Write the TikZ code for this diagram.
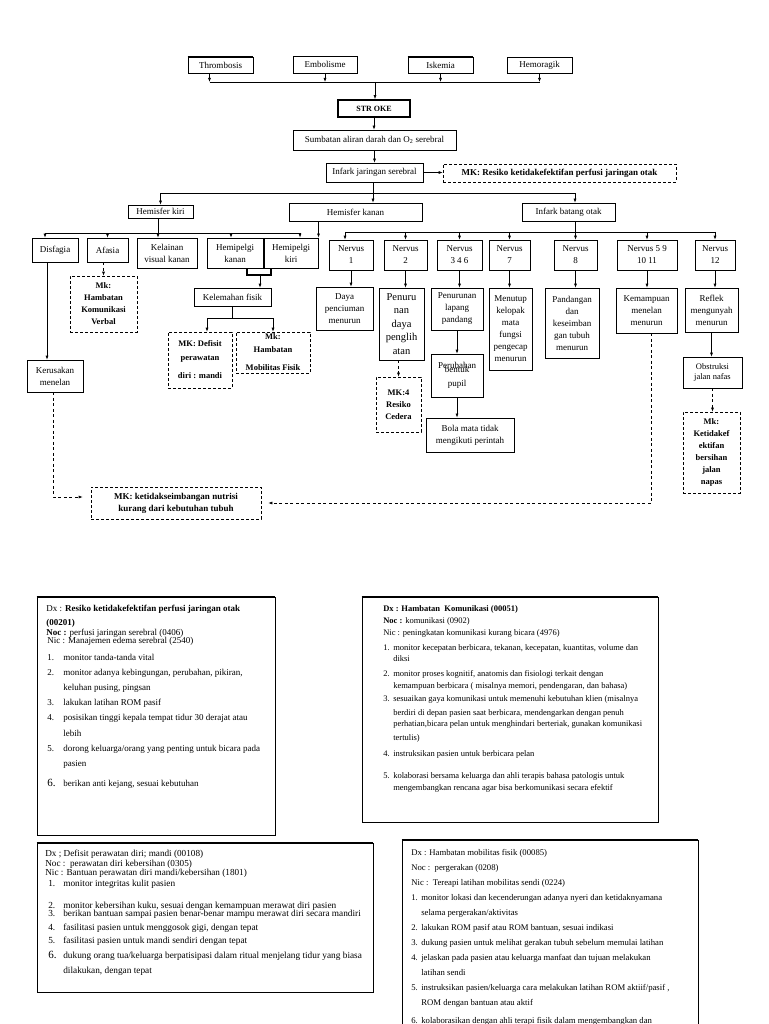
\documentclass[tikz,border=0pt]{standalone}
\usepackage{fontspec}
\setmainfont{Liberation Serif}
\usetikzlibrary{arrows.meta}

\tikzset{
  box/.style={draw, inner sep=0pt, align=center, font=\fontsize{9}{12}\selectfont},
  mkbox/.style={box, dash pattern=on 3pt off 2pt, font=\bfseries\fontsize{8.5}{12}\selectfont},
  arr/.style={-{Latex[length=4pt,width=3pt]}},
  darr/.style={arr, dash pattern=on 3pt off 2.5pt},
  doc/.style={draw, inner sep=0pt},
  topedge/.style={line width=1.6pt},
  dx/.style={anchor=base west, inner sep=0pt, font=\fontsize{#1}{10}\selectfont},
  dx/.default=8.7,
}

\newcommand{\boxat}[7][]{%
  \node[box, minimum width={(#5-#3)*1pt}, minimum height={(#6-#4)*1pt}, #1]
    (#2) at ({(#3+#5)/2},{(#4+#6)/2}) {#7};}

\begin{document}
\begin{tikzpicture}[x=1pt, y=-1pt, line width=0.6pt]
  \useasboundingbox (0,0) rectangle (768,1024);

  \boxat{thr}{188}{57}{253}{73}{Thrombosis}
  \boxat{emb}{293}{56}{357}{73}{Embolisme}
  \boxat{isk}{408}{57}{473}{73}{Iskemia}
  \boxat{hem}{507}{57}{572}{73}{Hemoragik}
  \boxat[line width=1.6pt, font=\bfseries\fontsize{8}{10}\selectfont]{stroke}{338}{100}{410}{117}{STR OKE}
  \boxat{sumb}{293}{130}{456}{150}{Sumbatan aliran darah dan O\textsubscript{2} serebral}
  \boxat{infark}{326}{163}{423}{182}{Infark jaringan serebral}
  \boxat[mkbox, font=\bfseries\fontsize{9}{11}\selectfont]{mkperf}{443}{164}{676}{182}{MK: Resiko ketidakefektifan perfusi jaringan otak}
  \foreach \c in {thr,isk}
    \draw[topedge] (\c.north west) -- (\c.north east);

  \boxat{hki}{128}{205}{193}{218}{Hemisfer kiri}
  \boxat{hka}{289}{203}{422}{221}{Hemisfer kanan}
  \boxat{ibo}{522}{203}{615}{221}{Infark batang otak}

  \boxat{disf}{32}{238}{78}{262}{Disfagia}
  \boxat{afas}{87}{238}{128}{262}{Afasia}
  \boxat{kel}{137}{238}{197}{268}{Kelainan\\visual kanan}
  \boxat{hpka}{207}{238}{263}{268}{Hemipelgi\\kanan}
  \boxat[line width=0.9pt]{hpki}{264}{238}{318}{268}{Hemipelgi\\kiri}
  \boxat{nv1}{329}{240}{373}{270}{Nervus\\1}
  \boxat{nv2}{384}{240}{427}{270}{Nervus\\2}
  \boxat{nv3}{437}{240}{482}{270}{Nervus\\3 4 6}
  \boxat{nv7}{489}{240}{530}{270}{Nervus\\7}
  \boxat{nv8}{554}{240}{597}{270}{Nervus\\8}
  \boxat{nv5}{617}{240}{677}{270}{Nervus 5 9\\10 11}
  \boxat{nv12}{695}{240}{735}{270}{Nervus\\12}

  \boxat{daya}{316}{287}{373}{330}{Daya\\penciuman\\menurun}
  \boxat[font=\fontsize{10.5}{13.5}\selectfont]{pengl}{379}{288}{424}{360}{Penuru\\nan\\daya\\penglih\\atan}
  \boxat{lapang}{431}{288}{483}{330}{Penurunan\\lapang\\pandang}
  \boxat{menutup}{489}{288}{532}{370}{Menutup\\kelopak\\mata\\fungsi\\pengecap\\menurun}
  \boxat{pand}{545}{288}{599}{358}{Pandangan\\dan\\keseimban\\gan tubuh\\menurun}
  \boxat{kemamp}{616}{288}{677}{333}{Kemampuan\\menelan\\menurun}
  \boxat{reflek}{685}{288}{738}{332}{Reflek\\mengunyah\\menurun}

  \boxat{perub}{431}{354}{483}{397}{Perubahan\\[-8pt]bentuk\\[2pt]pupil}
  \boxat[line width=0.9pt]{bola}{426}{418}{514}{452}{Bola mata tidak\\mengikuti perintah}
  \boxat[mkbox]{mkced}{376}{377}{421}{432}{MK:4\\Resiko\\Cedera}
  \boxat[font=\fontsize{8.5}{10}\selectfont]{obst}{683}{357}{742}{388}{Obstruksi\\jalan nafas}
  \boxat[mkbox]{mknap}{683}{412}{740}{493}{Mk:\\Ketidakef\\ektifan\\bersihan\\jalan\\napas}

  \boxat[mkbox]{mkverb}{70}{276}{137}{332}{Mk:\\Hambatan\\Komunikasi\\Verbal}
  \boxat{keru}{27}{360}{83}{392}{Kerusakan\\menelan}
  \boxat{kelem}{194}{288}{271}{306}{Kelemahan fisik}
  \boxat[mkbox]{mkdef}{168}{332}{232}{388}{MK: Defisit\\[2pt]perawatan\\[6pt]diri : mandi}
  \boxat[mkbox]{mkmob}{236}{332}{310}{373}{Mk:\\[1pt]Hambatan\\[6pt]Mobilitas Fisik}
  \boxat[mkbox, font=\bfseries\fontsize{9}{12}\selectfont]{mknut}{91}{487}{261}{519}{MK: ketidakseimbangan nutrisi\\kurang dari kebutuhan tubuh}

  \coordinate (b1) at (375,82);
  \draw[arr] ([xshift=-11pt]thr.south) -- ([xshift=-11pt]thr.south |- b1);
  \foreach \c in {emb,isk,hem}
    \draw[arr] (\c.south) -- (\c.south |- b1);
  \draw ([xshift=-11pt]thr.south |- b1) -- (hem.south |- b1);
  \draw[arr] (b1) -- (b1 |- stroke.north);
  \draw[arr] (stroke.south) -- (stroke.south |- sumb.north);
  \draw[arr] (sumb.south) -- (infark.north);
  \draw[arr] (infark.east) -- (infark.east -| mkperf.west);

  \coordinate (b2) at (373,193);
  \coordinate (b4) at (575,232);
  \draw (infark.south -| b2) -- (b2);
  \draw[arr] (b2) -| (hki.north);
  \draw[arr] (b2) -- (b2 |- hka.north);
  \draw[arr] (b2) -| (b4 |- ibo.north);

  \coordinate (b3) at (158,233);
  \draw[arr] (hki.south -| b3) -- (b3 |- kel.north);
  \draw ([xshift=-10pt]disf.north |- b3) -- ([xshift=9pt]hpki.north |- b3);
  \foreach \nd/\sh in {disf/-10, afas/0, hpka/-4, hpki/9}
    \draw[arr] ([xshift=\sh]\nd.north |- b3) -- ([xshift=\sh]\nd.north);
  \draw[arr] ([xshift=-37pt]hka.south) -- ([xshift=-37pt]hka.south |- hpki.north);

  \draw (ibo.south -| b4) -- (b4);
  \draw ([xshift=-6pt]nv1.north |- b4) -- (nv12.north |- b4);
  \foreach \nd/\sh in {nv1/-6, nv2/0, nv3/0, nv7/0, nv8/0, nv5/0, nv12/0}
    \draw[arr] ([xshift=\sh]\nd.north |- b4) -- ([xshift=\sh]\nd.north);
  \foreach \a/\b in {nv1/daya, nv2/pengl, nv3/lapang, nv7/menutup, nv8/pand, nv5/kemamp, nv12/reflek}
    \draw[arr] (\a.south) -- (\a.south |- \b.north);

  \draw[darr] (mkced.north |- pengl.south) -- (mkced.north);
  \draw[arr] (lapang.south) -- (lapang.south |- perub.north);
  \draw[arr] (perub.south) -- (perub.south |- bola.north);
  \draw[arr] (reflek.south) -- (reflek.south |- obst.north);
  \draw[darr] (obst.south) -- (obst.south |- mknap.north);

  \draw[darr] (mkverb.north |- afas.south) -- (mkverb.north);
  \draw[arr] ([xshift=-8pt]disf.south) -- ([xshift=-8pt]disf.south |- keru.north);
  \draw[darr, shorten >=8pt] ([xshift=-2pt]keru.south) |- ([yshift=6pt]mknut.west);
  \draw[darr, shorten >=7pt] ([xshift=5pt]kemamp.south) |- (mknut.east);

  \coordinate (hp) at (260,275);
  \draw[line width=1.2pt] ([xshift=12pt]hpka.south) |- (hp) -| ([xshift=-20pt]hpki.south);
  \draw[arr] (hp) -- (hp |- kelem.north);
  \coordinate (kb) at (232,318);
  \draw (kelem.south -| kb) -- (kb);
  \draw[arr] (kb) -| ([xshift=7pt]mkdef.north);
  \draw[arr] (kb) -| (mkmob.north);

  \boxat[doc]{dx1}{37}{597}{275}{835}{}
  \boxat[doc]{dx2}{362}{597}{658}{822}{}
  \boxat[doc]{dx3}{37}{843}{373}{992}{}
  \boxat[doc]{dx4}{402}{840}{698}{1040}{}
  \foreach \dxn in {dx1,dx2,dx3,dx4}
    \draw[topedge] (\dxn.north west) -- (\dxn.north east);

  \foreach \y/\txt in {611/{Dx : \textbf{Resiko ketidakefektifan perfusi jaringan otak}},
      625/{\textbf{(00201)}}, 635/{\textbf{Noc :} perfusi jaringan serebral (0406)}}
    \node[dx=9] at (46,\y) {\txt};
  \node[dx=9] (nic1) at (47,643) {Nic : Manajemen edema serebral (2540)};
  \foreach \y/\num/\txt in {660/1./{monitor tanda-tanda vital},
      675/2./{monitor adanya kebingungan, perubahan, pikiran,},
      690//{keluhan pusing, pingsan},
      705/3./{lakukan latihan ROM pasif},
      720/4./{posisikan tinggi kepala tempat tidur 30 derajat atau},
      736//{lebih},
      751/5./{dorong keluarga/orang yang penting untuk bicara pada},
      766//{pasien},
      786/{\fontsize{11}{11}\selectfont 6.}/{berikan anti kejang, sesuai kebutuhan}}
  {
    \node[dx=9] at (47,\y) {\num};
    \node[dx=9] at (63,\y) {\txt};
  }

  \foreach \y/\txt in {611/{\textbf{Dx : Hambatan\ \ Komunikasi (00051)}},
      623/{\textbf{Noc :} komunikasi (0902)},
      635/{Nic : peningkatan komunikasi kurang bicara (4976)}}
    \node[dx=8.5] at (383,\y) {\txt};
  \foreach \y/\num/\txt in {650/1./{monitor kecepatan berbicara, tekanan, kecepatan, kuantitas, volume dan},
      661//{diksi},
      676/2./{monitor proses kognitif, anatomis dan fisiologi terkait dengan},
      688//{kemampuan berbicara ( misalnya memori, pendengaran, dan bahasa)},
      701/3./{sesuaikan gaya komunikasi untuk memenuhi kebutuhan klien (misalnya},
      715//{berdiri di depan pasien saat berbicara, mendengarkan dengan penuh},
      726//{perhatian,bicara pelan untuk menghindari berteriak, gunakan komunikasi},
      740//{tertulis)},
      756/4./{instruksikan pasien untuk berbicara pelan},
      778/5./{kolaborasi bersama keluarga dan ahli terapis bahasa patologis untuk},
      790//{mengembangkan rencana agar bisa berkomunikasi secara efektif}}
  {
    \node[dx=8.5] at (383,\y) {\num};
    \node[dx=8.5] at (393,\y) {\txt};
  }

  \foreach \y/\txt in {856/{Dx ; Defisit perawatan diri; mandi (00108)},
      866/{Noc :\ \ perawatan diri kebersihan (0305)},
      875/{Nic : Bantuan perawatan diri mandi/kebersihan (1801)}}
    \node[dx=9.2] at (45,\y) {\txt};
  \foreach \y/\num/\txt in {886/1./{monitor integritas kulit pasien},
      908/2./{monitor kebersihan kuku, sesuai dengan kemampuan merawat diri pasien},
      916/3./{berikan bantuan sampai pasien benar-benar mampu merawat diri secara mandiri},
      930/4./{fasilitasi pasien untuk menggosok gigi, dengan tepat},
      943/5./{fasilitasi pasien untuk mandi sendiri dengan tepat},
      958/{\fontsize{11}{11}\selectfont 6.}/{dukung orang tua/keluarga berpatisipasi dalam ritual menjelang tidur yang biasa},
      973//{dilakukan, dengan tepat}}
  {
    \node[dx=9.3] at (48,\y) {\num};
    \node[dx=9.3] at (63,\y) {\txt};
  }

  \foreach \y/\txt in {855/{Dx : Hambatan mobilitas fisik (00085)},
      870/{Noc :\ \ pergerakan (0208)},
      885/{Nic :\ \ Tereapi latihan mobilitas sendi (0224)}}
    \node[dx=8.7] at (411,\y) {\txt};
  \foreach \y/\num/\txt in {900/1./{monitor lokasi dan kecenderungan adanya nyeri dan ketidaknyamana},
      915//{selama pergerakan/aktivitas},
      930/2./{lakukan ROM pasif atau ROM bantuan, sesuai indikasi},
      945/3./{dukung pasien untuk melihat gerakan tubuh sebelum memulai latihan},
      960/4./{jelaskan pada pasien atau keluarga manfaat dan tujuan melakukan},
      975//{latihan sendi},
      990/5./{instruksikan pasien/keluarga cara melakukan latihan ROM aktiif/pasif ,},
      1005//{ROM dengan bantuan atau aktif},
      1023/6./{kolaborasikan dengan ahli terapi fisik dalam mengembangkan dan}}
  {
    \node[dx=8.7] at (411,\y) {\num};
    \node[dx=8.7] at (421,\y) {\txt};
  }
\end{tikzpicture}
\end{document}
